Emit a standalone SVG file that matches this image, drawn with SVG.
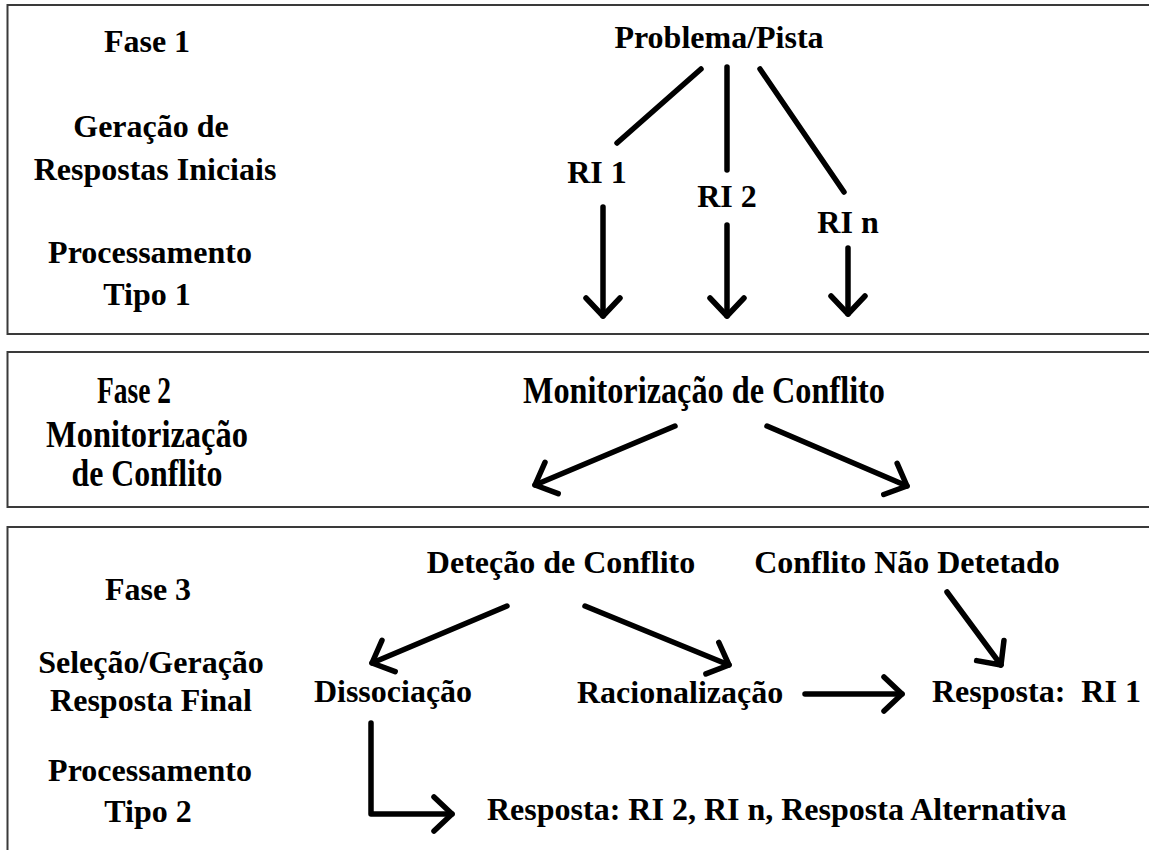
<svg xmlns="http://www.w3.org/2000/svg" width="1149" height="850" viewBox="0 0 1149 850">
<style>
.panel{fill:#fff;stroke:#3a3a3a;stroke-width:2}
.t{font-family:"Liberation Serif","Times New Roman",serif;font-weight:bold;font-size:32px;fill:#000;white-space:pre}
.c{text-anchor:middle}
.n{font-size:38px}
.ln{fill:none;stroke:#000;stroke-width:5.5;stroke-linecap:round;stroke-linejoin:round}
</style>
<defs>
<marker id="chev" markerUnits="userSpaceOnUse" orient="auto" viewBox="-25 -22 30 44" refX="0" refY="0" markerWidth="30" markerHeight="44" overflow="visible">
<path d="M-18,-17 L0,0 L-18,17" fill="none" stroke="#000" stroke-width="5.5" stroke-linecap="round" stroke-linejoin="round"/>
</marker>
</defs>
<rect width="1149" height="850" fill="#fff"/>
<g id="panel1">
<rect class="panel" x="7.5" y="5" width="1200" height="329"/>
<text class="t c" x="147" y="52">Fase 1</text>
<text class="t c" x="151" y="137">Geração de</text>
<text class="t c" x="155" y="180">Respostas Iniciais</text>
<text class="t c" x="150" y="263">Processamento</text>
<text class="t c" x="147" y="305">Tipo 1</text>
</g>
<g id="panel2">
<rect class="panel" x="7.5" y="352" width="1200" height="155"/>
<text class="t c n" x="134" y="403" textLength="74" lengthAdjust="spacingAndGlyphs">Fase 2</text>
<text class="t c n" x="147" y="447" textLength="202" lengthAdjust="spacingAndGlyphs">Monitorização</text>
<text class="t c n" x="147" y="486" textLength="151" lengthAdjust="spacingAndGlyphs">de Conflito</text>
</g>
<g id="panel3">
<rect class="panel" x="7.5" y="527" width="1200" height="400"/>
<text class="t c" x="148" y="600">Fase 3</text>
<text class="t c" x="151" y="673">Seleção/Geração</text>
<text class="t c" x="151" y="711">Resposta Final</text>
<text class="t c" x="150" y="781">Processamento</text>
<text class="t c" x="148" y="822">Tipo 2</text>
</g>
<g id="node-problema"><text class="t c" x="719" y="48">Problema/Pista</text></g>
<g id="node-ri1"><text class="t c" x="597" y="183">RI 1</text></g>
<g id="node-ri2"><text class="t c" x="727" y="207">RI 2</text></g>
<g id="node-rin"><text class="t c" x="848" y="233">RI n</text></g>
<g id="node-monitorizacao"><text class="t c n" x="704" y="403" textLength="362" lengthAdjust="spacingAndGlyphs">Monitorização de Conflito</text></g>
<g id="node-detecao"><text class="t c" x="561" y="573">Deteção de Conflito</text></g>
<g id="node-naodetetado"><text class="t c" x="907" y="573">Conflito Não Detetado</text></g>
<g id="node-dissociacao"><text class="t c" x="393" y="702">Dissociação</text></g>
<g id="node-racionalizacao"><text class="t" x="577" y="703">Racionalização</text></g>
<g id="node-resposta-ri1"><text class="t" x="932" y="702">Resposta:  RI 1</text></g>
<g id="node-resposta-alt"><text class="t" x="487" y="820">Resposta: RI 2, RI n, Resposta Alternativa</text></g>
<g id="connectors">
<line class="ln" x1="701" y1="69" x2="617" y2="143"/>
<line class="ln" x1="727" y1="67" x2="727" y2="170"/>
<line class="ln" x1="760" y1="69" x2="844" y2="192"/>
<line class="ln" x1="603" y1="207" x2="603" y2="316" marker-end="url(#chev)"/>
<line class="ln" x1="727" y1="225" x2="727" y2="316" marker-end="url(#chev)"/>
<line class="ln" x1="848" y1="248" x2="848" y2="314" marker-end="url(#chev)"/>
<line class="ln" x1="675" y1="426" x2="535" y2="485" marker-end="url(#chev)"/>
<line class="ln" x1="767" y1="426" x2="907" y2="486" marker-end="url(#chev)"/>
<line class="ln" x1="507" y1="606" x2="372" y2="663" marker-end="url(#chev)"/>
<line class="ln" x1="585" y1="606" x2="729" y2="665" marker-end="url(#chev)"/>
<line class="ln" x1="947" y1="592" x2="1001" y2="665" marker-end="url(#chev)"/>
<line class="ln" x1="805" y1="694" x2="902" y2="694" marker-end="url(#chev)"/>
<polyline class="ln" points="371,723 371,814 452,814" marker-end="url(#chev)"/>
</g>
</svg>
